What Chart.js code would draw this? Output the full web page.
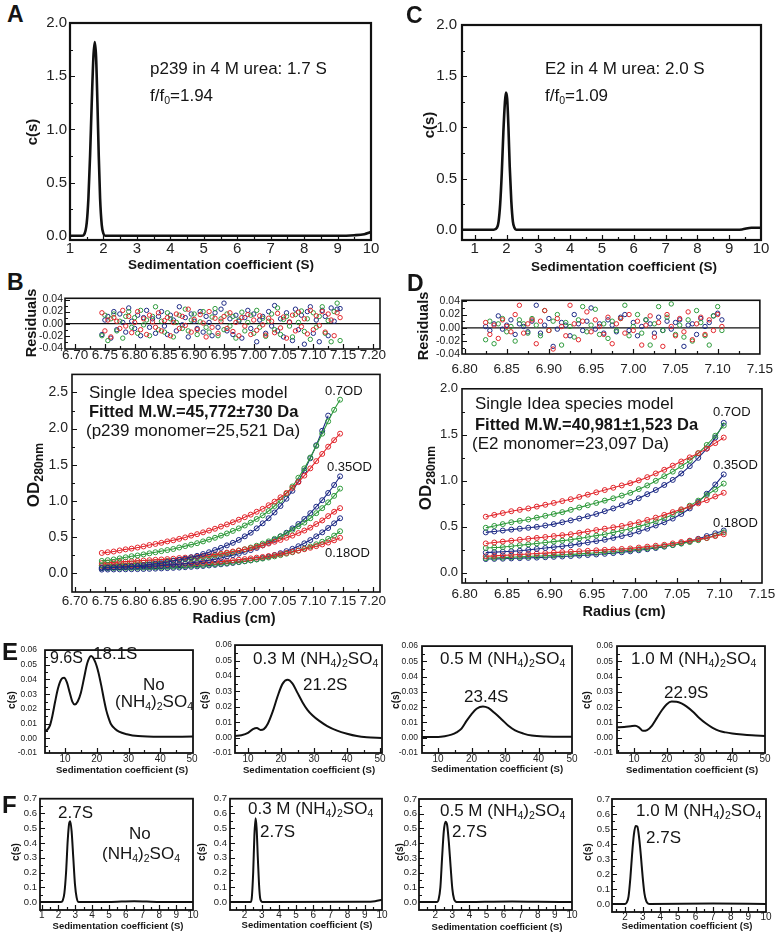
<!DOCTYPE html>
<html><head><meta charset="utf-8">
<script src="https://cdn.jsdelivr.net/npm/chart.js@4.4.1/dist/chart.umd.min.js"></script>
<style>
body{margin:0;width:778px;height:935px;position:relative;background:#fff;overflow:hidden;font-family:'Liberation Sans',Arial,sans-serif;color:#151515}
.t{position:absolute;white-space:nowrap;line-height:1}
.s{font-size:62%;position:relative;top:0.3em}
.s2{font-size:72%;position:relative;top:0.3em}
</style></head><body>
<script>
// ---------------- data ----------------
// A : p239 in 4 M urea
const sA=[1.0,1.35,1.42,1.5,1.55,1.6,1.65,1.7,1.74,1.78,1.82,1.86,1.9,1.95,2.0,2.05,2.2,4,6,8,9,9.5,9.8,10];
const cA=[0,0,0.01,0.12,0.35,0.75,1.25,1.68,1.82,1.68,1.25,0.75,0.35,0.1,0.02,0,0,0,0,0,0,0.005,0.015,0.035];
// C : E2 in 4 M urea
const sC=[0.6,1.6,1.7,1.75,1.8,1.85,1.9,1.95,1.98,2.02,2.06,2.1,2.15,2.2,2.25,2.3,5,9,9.4,9.7,10];
const cC=[0,0,0.02,0.08,0.25,0.55,0.95,1.25,1.34,1.28,1.0,0.62,0.28,0.08,0.02,0,0,0,0.003,0.02,0.02];
// B : p239 sedimentation equilibrium
const radiusB=[6.745,6.755,6.765,6.775,6.785,6.795,6.805,6.815,6.825,6.835,6.845,6.855,6.865,6.875,6.885,6.895,6.905,6.915,6.925,6.935,6.945,6.955,6.965,6.975,6.985,6.995,7.005,7.015,7.025,7.035,7.045,7.055,7.065,7.075,7.085,7.095,7.105,7.115,7.125,7.135,7.145];
const odB_red07=[.28,.29,.30,.315,.33,.34,.355,.37,.39,.405,.42,.44,.455,.475,.495,.52,.54,.565,.59,.615,.645,.675,.705,.74,.775,.81,.85,.89,.94,.99,1.05,1.11,1.18,1.26,1.35,1.45,1.55,1.65,1.75,1.84,1.93];
const odB_green07=[.17,.18,.19,.205,.22,.235,.245,.26,.275,.29,.305,.32,.335,.355,.375,.395,.415,.44,.465,.49,.52,.55,.585,.62,.66,.70,.75,.80,.86,.93,1.01,1.10,1.20,1.32,1.45,1.60,1.76,1.93,2.10,2.26,2.40];
const odB_blue07=[.07,.075,.08,.085,.09,.095,.10,.11,.12,.13,.14,.155,.17,.185,.20,.22,.24,.265,.29,.32,.35,.385,.42,.46,.51,.56,.62,.69,.76,.84,.93,1.03,1.14,1.27,1.42,1.59,1.77,1.97,2.18,null,null];
const odB_red035=[.14,.145,.15,.155,.16,.165,.17,.175,.18,.185,.19,.195,.20,.21,.215,.22,.23,.24,.25,.26,.27,.285,.30,.315,.33,.345,.365,.385,.41,.435,.46,.49,.52,.555,.59,.63,.68,.73,.79,.85,.90];
const odB_green035=[.11,.115,.12,.125,.13,.135,.14,.145,.15,.155,.16,.17,.175,.185,.19,.20,.21,.22,.23,.245,.26,.275,.29,.31,.33,.355,.38,.41,.44,.475,.51,.55,.60,.65,.70,.76,.83,.90,.98,1.07,1.17];
const odB_blue035=[.08,.082,.084,.086,.088,.09,.092,.095,.098,.10,.105,.11,.118,.125,.135,.145,.155,.165,.18,.195,.21,.23,.25,.27,.295,.32,.35,.385,.42,.46,.51,.56,.62,.68,.75,.83,.92,1.01,1.11,1.22,1.34];
const odB_red018=[.10,.10,.102,.104,.106,.108,.11,.112,.114,.116,.118,.121,.124,.127,.131,.135,.14,.145,.15,.156,.162,.17,.178,.186,.195,.205,.215,.225,.237,.25,.264,.28,.296,.313,.332,.352,.374,.398,.424,.455,.49];
const odB_green018=[.07,.071,.072,.073,.074,.075,.076,.078,.08,.082,.085,.088,.091,.095,.099,.104,.109,.114,.12,.126,.133,.14,.148,.157,.167,.178,.19,.203,.217,.233,.25,.27,.29,.313,.34,.37,.40,.435,.475,.52,.58];
const odB_blue018=[.05,.051,.052,.053,.054,.055,.056,.058,.06,.063,.066,.07,.074,.078,.083,.088,.094,.10,.107,.115,.123,.132,.142,.153,.165,.178,.193,.21,.23,.252,.277,.305,.337,.373,.413,.458,.51,.565,.625,.69,.76];
const resXB=[6.745,6.75,6.755,6.76,6.765,6.77,6.775,6.78,6.785,6.79,6.795,6.8,6.805,6.81,6.815,6.82,6.825,6.83,6.835,6.84,6.845,6.85,6.855,6.86,6.865,6.87,6.875,6.88,6.885,6.89,6.895,6.9,6.905,6.91,6.915,6.92,6.925,6.93,6.935,6.94,6.945,6.95,6.955,6.96,6.965,6.97,6.975,6.98,6.985,6.99,6.995,7.0,7.005,7.01,7.015,7.02,7.025,7.03,7.035,7.04,7.045,7.05,7.055,7.06,7.065,7.07,7.075,7.08,7.085,7.09,7.095,7.1,7.105,7.11,7.115,7.12,7.125,7.13,7.135,7.14,7.145];
const resB_red=[.018,-.012,.006,-.022,.01,.004,-.008,.022,-.004,.012,-.015,.002,.02,-.01,.008,-.018,.014,.003,-.006,.018,-.012,.005,.01,-.02,.002,.016,-.008,.012,-.003,.024,-.014,.007,-.01,.015,.001,-.022,.02,-.006,.009,-.016,.004,.012,-.008,.018,-.013,.002,-.02,.01,-.004,.015,-.018,.006,-.011,.013,-.002,-.019,.009,.004,-.015,.017,-.007,.011,-.024,.003,.014,-.012,.019,-.005,.008,-.017,.022,-.01,.013,-.003,.02,-.014,.016,.006,-.02,.018,.01];
const resB_green=[-.02,.014,-.028,.008,.016,-.012,.004,-.024,.012,.02,-.006,.01,-.016,.022,-.002,.006,-.02,.012,.028,-.01,.004,-.014,.018,.008,-.022,.002,.014,-.008,.024,-.012,.006,.016,-.018,.003,.02,-.006,-.014,.011,.025,-.02,.008,-.01,.016,-.004,.012,-.024,.006,.019,-.012,.002,.014,-.016,.022,-.006,.009,-.021,.004,.016,-.01,.026,-.018,.007,.012,-.004,-.022,.015,.002,.021,-.013,.008,-.026,.018,-.006,.012,.028,-.016,.005,-.03,.02,.034,-.028];
const resB_blue=[-.018,.006,.012,-.024,.02,-.01,.016,.002,-.014,.026,.004,-.008,.014,-.02,.01,.022,-.006,.008,-.016,.012,.02,-.004,-.018,.014,.006,-.012,.028,-.002,.01,-.022,.016,.004,-.008,.02,-.014,.012,.002,-.02,.018,-.006,.024,.034,-.012,.008,-.018,.014,.004,-.024,.01,.022,-.008,.016,-.03,.006,.012,-.016,.02,-.004,.03,-.012,.008,-.022,.018,.002,-.028,.024,-.01,.014,-.034,.02,.028,-.016,.006,-.03,.022,.012,-.02,.026,.004,.024,.025];
// D : E2 sedimentation equilibrium
const radiusD=[6.825,6.835,6.845,6.855,6.865,6.875,6.885,6.895,6.905,6.915,6.925,6.935,6.945,6.955,6.965,6.975,6.985,6.995,7.005,7.015,7.025,7.035,7.045,7.055,7.065,7.075,7.085,7.095,7.105];
const odD_red07=[.61,.63,.65,.67,.685,.70,.72,.74,.76,.78,.80,.825,.85,.875,.90,.925,.95,.975,1.005,1.04,1.08,1.12,1.165,1.21,1.255,1.30,1.35,1.41,1.47];
const odD_green07=[.49,.51,.53,.55,.565,.58,.60,.62,.64,.66,.685,.71,.735,.76,.785,.81,.84,.87,.91,.95,1.0,1.05,1.10,1.16,1.22,1.30,1.39,1.49,1.60];
const odD_blue07=[.44,.45,.46,.47,.48,.49,.50,.515,.53,.55,.57,.59,.615,.64,.67,.70,.735,.77,.81,.855,.90,.955,1.01,1.08,1.16,1.25,1.35,1.47,1.63];
const odD_red035=[.32,.33,.34,.35,.36,.37,.38,.39,.40,.41,.42,.435,.45,.465,.48,.495,.51,.53,.55,.575,.60,.63,.66,.69,.72,.755,.79,.83,.87];
const odD_green035=[.27,.275,.28,.29,.30,.31,.32,.33,.34,.35,.36,.375,.39,.405,.42,.44,.46,.48,.505,.53,.56,.595,.635,.68,.73,.785,.845,.905,.97];
const odD_blue035=[.22,.225,.23,.235,.24,.25,.26,.27,.28,.29,.30,.315,.33,.345,.36,.38,.40,.42,.45,.48,.515,.55,.59,.64,.70,.77,.86,.96,1.07];
const odD_red018=[.18,.185,.19,.195,.20,.205,.21,.215,.22,.225,.23,.235,.24,.245,.25,.255,.26,.265,.275,.285,.295,.305,.32,.335,.35,.365,.38,.40,.42];
const odD_green018=[.16,.163,.166,.17,.174,.178,.182,.186,.19,.195,.20,.206,.212,.218,.225,.232,.24,.248,.257,.267,.278,.29,.303,.318,.335,.355,.378,.405,.44];
const odD_blue018=[.15,.152,.154,.157,.16,.163,.166,.17,.174,.178,.183,.188,.194,.20,.207,.215,.224,.234,.245,.257,.27,.285,.302,.322,.345,.37,.40,.43,.46];
const resXD=[6.825,6.83,6.835,6.84,6.845,6.85,6.855,6.86,6.865,6.87,6.875,6.88,6.885,6.89,6.895,6.9,6.905,6.91,6.915,6.92,6.925,6.93,6.935,6.94,6.945,6.95,6.955,6.96,6.965,6.97,6.975,6.98,6.985,6.99,6.995,7.0,7.005,7.01,7.015,7.02,7.025,7.03,7.035,7.04,7.045,7.05,7.055,7.06,7.065,7.07,7.075,7.08,7.085,7.09,7.095,7.1,7.105];
const resD_red=[.008,-.01,.004,-.016,.012,.002,-.006,.02,.034,-.008,.006,.012,-.024,.01,.026,-.004,-.032,.014,.002,-.012,.034,.006,-.018,.01,.024,-.006,.012,.002,-.01,.016,-.024,.006,.014,-.008,.02,-.004,.01,-.026,.004,.018,-.014,.008,-.028,.02,.002,-.012,.014,-.006,.024,-.018,.006,.016,-.01,.012,-.004,.02,.002];
const resD_green=[-.018,.01,-.024,.006,.014,-.006,.002,-.02,.012,.006,-.008,.014,.004,-.012,.026,-.004,.01,.02,-.026,.008,.002,-.014,.012,.032,-.006,.004,.028,-.01,.006,-.016,.01,-.004,.014,.034,-.012,.002,.02,-.008,.012,-.026,.006,.032,-.004,.016,.036,-.01,.004,-.014,.012,-.02,.026,.008,-.012,-.026,.018,.032,-.004];
const resD_blue=[.002,-.004,.006,.018,-.002,.004,.012,-.01,.006,.002,-.006,.01,.034,-.008,.004,.014,-.028,-.002,.008,.004,-.012,.02,.006,-.004,.01,.03,-.002,.006,-.008,.012,.004,-.006,.016,.02,-.004,.008,-.012,.002,.012,.006,-.008,.016,-.004,.01,-.002,.008,.012,-.028,.004,.006,-.01,.014,.002,.008,.018,.022,.012];
// E : large-s c(s) distributions
const sE1=[3.7,4.5,5.3,6.0,6.9,7.8,8.8,9.7,10.6,11.5,12.3,13.1,14,15,16,17,18.2,19.5,20.5,21.5,22.3,23,23.6,24.5,25.7,27,29.5,33,40,50.3];
const cE1=[.005,.006,.009,.015,.025,.034,.040,.0412,.038,.031,.025,.023,.025,.031,.041,.051,.056,.052,.045,.035,.026,.019,.0146,.0095,.0065,.0045,.0028,.0015,.001,.0012];
const sE2=[6.06,8,10,11.5,12.7,13.8,14.8,16,17.5,19,20.5,22,23.5,25,26.5,28,29.5,31.5,34,37,40,43,46,50.5];
const cE2=[.001,.0015,.003,.0055,.0062,.005,.0055,.009,.017,.027,.035,.0375,.035,.029,.023,.018,.0145,.011,.0075,.0045,.0025,.001,.0002,-.0003];
const sE3=[5.2,10,12,14,15.5,17,18.5,20,21.5,23.4,25,27,29,31,33,35.5,38,42,50];
const cE3=[.0005,.0005,.001,.002,.0035,.006,.011,.0155,.019,.0205,.0195,.016,.012,.0078,.0048,.0027,.0014,.0008,.0006];
const sE4=[4.8,7,9,10.3,11.5,12.7,14,15.5,17,18.5,20,21.5,23,24.5,26,28,30,32,34,36,38,40,43,46,50];
const cE4=[.0068,.007,.0075,.0078,.0068,.0045,.005,.008,.013,.018,.022,.0237,.0236,.0225,.0205,.017,.0128,.0093,.0065,.0045,.0035,.0028,.0021,.0016,.0012];
// F : small-s c(s) distributions
const sF1=[0.9,2.15,2.25,2.35,2.45,2.55,2.63,2.7,2.78,2.88,2.98,3.08,3.2,5,6.5,8,10];
const cF1=[0,0,.01,.06,.2,.42,.53,.548,.48,.3,.12,.03,0,0,.006,0,0];
const sF2=[1.15,2.35,2.42,2.5,2.57,2.64,2.7,2.77,2.84,2.9,2.97,3.05,9,9.6,10];
const cF2=[0,0,.03,.2,.45,.567,.5,.3,.12,.03,.005,0,.002,.006,.015];
const sF3=[1.05,2.1,2.2,2.3,2.4,2.5,2.6,2.7,2.8,2.9,3.0,3.1,3.2,3.3,6.5,8,10];
const cF3=[0,0,.02,.1,.3,.48,.545,.52,.4,.24,.09,.02,.003,0,.004,.002,0];
const sF4=[1.26,2.0,2.1,2.2,2.3,2.4,2.5,2.6,2.7,2.8,2.9,3.0,3.1,3.2,3.3,3.4,7,10];
const cF4=[0,0,.01,.05,.17,.33,.46,.52,.515,.44,.32,.18,.07,.02,.003,0,.003,0];
// tick labels
const ticksS10=[1,2,3,4,5,6,7,8,9,10];
const ticksS10b=[2,3,4,5,6,7,8,9,10];
const ticksCs2=[0,0.5,1.0,1.5,2.0];
const ticksRadB=[6.70,6.75,6.80,6.85,6.90,6.95,7.00,7.05,7.10,7.15,7.20];
const ticksRadD=[6.80,6.85,6.90,6.95,7.00,7.05,7.10,7.15];
const ticksRes=[-0.04,-0.02,0,0.02,0.04];
const ticksODB=[0,0.5,1.0,1.5,2.0,2.5];
const ticksODD=[0,0.5,1.0,1.5,2.0];
const ticksSE=[10,20,30,40,50];
const ticksCE=[-0.01,0,0.01,0.02,0.03,0.04,0.05,0.06];
const ticksCF=[0,0.1,0.2,0.3,0.4,0.5,0.6,0.7];

// ---------------- drawing ----------------
const F="'Liberation Sans', Arial, sans-serif";
const RED='#e2262c', GREEN='#2e9a3b', BLUE='#1d2a85';

const framePlugin={id:'frame',
  beforeDatasetsDraw(ch,a,o){ if(!o.zero) return; const {ctx,chartArea:c}=ch; const p=ch.scales.y.getPixelForValue(0);
    ctx.save(); ctx.strokeStyle='#111'; ctx.lineWidth=1.3; ctx.beginPath(); ctx.moveTo(c.left,p); ctx.lineTo(c.right,p); ctx.stroke(); ctx.restore(); },
  afterDraw(ch,a,o){ const {ctx,chartArea:c}=ch, X=ch.scales.x, Y=ch.scales.y;
    ctx.save(); ctx.strokeStyle='#111'; ctx.lineWidth=1.2; ctx.beginPath();
    const tx=(v,len)=>{const p=Math.round(X.getPixelForValue(v))+0.5; if(p<c.left+1||p>c.right-1) return; ctx.moveTo(p,c.bottom); ctx.lineTo(p,c.bottom-len);};
    const ty=(v,len)=>{const p=Math.round(Y.getPixelForValue(v))+0.5; if(p<c.top+1||p>c.bottom-1) return; ctx.moveTo(c.left,p); ctx.lineTo(c.left+len,p);};
    X.ticks.forEach(t=>tx(t.value,5)); Y.ticks.forEach(t=>ty(t.value,5));
    if(o.xm) for(let k=Math.ceil(X.min/o.xm-1e-9);k*o.xm<=X.max+1e-9;k++) tx(k*o.xm,3);
    if(o.ym) for(let k=Math.ceil(Y.min/o.ym-1e-9);k*o.ym<=Y.max+1e-9;k++) ty(k*o.ym,3);
    ctx.stroke();
    ctx.lineWidth=o.lw; ctx.strokeRect(c.left,c.top,c.right-c.left,c.bottom-c.top);
    ctx.restore(); }};

function pts(xs,ys){return xs.map((x,i)=>({x:x,y:ys[i]}));}
function curve(xs,ys,w){return {data:pts(xs,ys),borderColor:'#111',borderWidth:w||2,pointRadius:0,cubicInterpolationMode:'monotone',fill:false};}
function dots(xs,ys,c,line,r){return {data:pts(xs,ys),borderColor:c,borderWidth:line?1.1:0,showLine:!!line,pointRadius:r||2.5,pointBorderWidth:1,pointBorderColor:c,pointBackgroundColor:'rgba(255,255,255,0)',fill:false,cubicInterpolationMode:'monotone'};}

function panel(box,m,o){
  const [l,t,r,b]=box,[L,T,R,B]=m;
  const W=r-l+L+R,H=b-t+T+B;
  const cv=document.createElement('canvas');
  cv.width=W; cv.height=H;
  cv.style.cssText='position:absolute;left:'+(l-L)+'px;top:'+(t-T)+'px;width:'+W+'px;height:'+H+'px';
  document.body.appendChild(cv);
  const axis=(mn,mx,tv,dec,fs,pad,fit)=>({type:'linear',min:mn,max:mx,afterFit:fit,
    afterBuildTicks:s=>{s.ticks=tv.map(v=>({value:v}));},
    grid:{display:false,drawTicks:false},border:{display:false},
    ticks:{font:{size:fs,family:F},color:'#222',padding:pad,maxRotation:0,minRotation:0,autoSkip:false,callback:v=>Number(v).toFixed(dec)}});
  return new Chart(cv,{type:'line',data:{datasets:o.ds},options:{
    responsive:false,animation:false,devicePixelRatio:1,events:[],
    layout:{padding:{left:0,top:T,right:R,bottom:0}},
    plugins:{legend:{display:false},tooltip:{enabled:false},frame:{lw:o.lw||1.6,xm:o.xm,ym:o.ym,zero:o.zero}},
    scales:{x:axis(o.x[0],o.x[1],o.xt,o.xd,o.xf,o.xp,s=>{s.height=B;}),
            y:axis(o.y[0],o.y[1],o.yt,o.yd,o.yf,o.yp,s=>{s.width=L;})}
  },plugins:[framePlugin]});
}

// A
panel([70,21,371,240],[45,10,14,22],{x:[1,10],y:[-0.04,2.0],xt:ticksS10,yt:ticksCs2,xd:0,yd:1,xf:15,yf:15,xp:0,yp:3,xm:0.5,ym:0.25,lw:2.2,
  ds:[curve(sA,cA,2.6)]});
// C
panel([462,21,761,240],[45,10,15,22],{x:[0.6,10],y:[-0.1,2.0],xt:ticksS10,yt:ticksCs2,xd:0,yd:1,xf:15,yf:15,xp:0,yp:5,xm:0.5,ym:0.25,lw:2.2,
  ds:[curve(sC,cC,2.6)]});
// B residuals
panel([65,298,380,349],[40,8,20,18],{x:[6.683,7.212],y:[-0.042,0.042],xt:ticksRadB,yt:ticksRes,xd:2,yd:2,xf:13.5,yf:10.5,xp:-2,yp:2,xm:0.025,ym:0.01,lw:1.6,zero:true,
  ds:[dots(resXB,resB_red,RED,false,2.2),dots(resXB,resB_green,GREEN,false,2.2),dots(resXB,resB_blue,BLUE,false,2.2)]});
// B main
panel([72,372,380,592],[40,10,20,20],{x:[6.695,7.212],y:[-0.26,2.75],xt:ticksRadB,yt:ticksODB,xd:2,yd:1,xf:13.5,yf:14,xp:1,yp:4,xm:0.025,ym:0.25,lw:1.6,
  ds:[dots(radiusB,odB_red07,RED,true),dots(radiusB,odB_green07,GREEN,true),dots(radiusB,odB_blue07,BLUE,true),
      dots(radiusB,odB_red035,RED,true),dots(radiusB,odB_green035,GREEN,true),dots(radiusB,odB_blue035,BLUE,true),
      dots(radiusB,odB_red018,RED,true),dots(radiusB,odB_green018,GREEN,true),dots(radiusB,odB_blue018,BLUE,true)]});
// D residuals
panel([462,300,762,354],[40,8,18,26],{x:[6.797,7.15],y:[-0.0395,0.0415],xt:ticksRadD,yt:ticksRes,xd:2,yd:2,xf:13.5,yf:10.5,xp:7,yp:2,xm:0.025,ym:0.01,lw:1.6,zero:true,
  ds:[dots(resXD,resD_red,RED,false,2.2),dots(resXD,resD_green,GREEN,false,2.2),dots(resXD,resD_blue,BLUE,false,2.2)]});
// D main
panel([462,387,762,583],[40,10,18,22],{x:[6.797,7.15],y:[-0.11,2.0],xt:ticksRadD,yt:ticksODD,xd:2,yd:1,xf:13.5,yf:13,xp:3,yp:4,xm:0.025,ym:0.25,lw:1.6,
  ds:[dots(radiusD,odD_red07,RED,true),dots(radiusD,odD_green07,GREEN,true),dots(radiusD,odD_blue07,BLUE,true),
      dots(radiusD,odD_red035,RED,true),dots(radiusD,odD_green035,GREEN,true),dots(radiusD,odD_blue035,BLUE,true),
      dots(radiusD,odD_red018,RED,true),dots(radiusD,odD_green018,GREEN,true),dots(radiusD,odD_blue018,BLUE,true)]});
// E
const eOpt=(xr,yp,s,c)=>({x:xr,y:[-0.01,0.06],xt:ticksSE,yt:ticksCE,xd:0,yd:2,xf:10,yf:8.5,xp:0,yp:yp,xm:5,ym:0.005,lw:1.8,ds:[curve(s,c,2)]});
panel([45,645,193,753],[40,8,12,14],eOpt([3.7,50.3],8,sE1,cE1));
panel([235,645,382,753],[40,8,12,14],eOpt([6.06,50.6],3,sE2,cE2));
panel([422,645,572,753],[40,8,12,14],eOpt([5.2,50],4,sE3,cE3));
panel([617,645,765,753],[40,8,10,14],eOpt([4.8,50],4,sE4,cE4));
// F
const fOpt=(xr,xt,yp,s,c)=>({x:xr,y:[-0.054,0.7],xt:xt,yt:ticksCF,xd:0,yd:1,xf:10,yf:9.5,xp:-1,yp:yp,xm:0.5,ym:0.05,lw:1.8,ds:[curve(s,c,2)]});
panel([40,798,193,910],[36,8,12,12],fOpt([0.9,10],ticksS10,3,sF1,cF1));
panel([230,798,382,910],[36,8,12,12],fOpt([1.15,10],ticksS10b,3,sF2,cF2));
panel([419,799,572,910],[36,8,12,12],fOpt([1.05,10],ticksS10b,2,sF3,cF3));
panel([612,799,766,912],[36,8,10,12],fOpt([1.26,10],ticksS10b,2,sF4,cF4));

// ---------------- text ----------------
function T(x,yc,h,fs,bold,center){const d=document.createElement('div');d.className='t';d.innerHTML=h;
  d.style.left=x+'px';d.style.top=(yc-0.49*fs)+'px';d.style.fontSize=fs+'px';if(bold)d.style.fontWeight='bold';
  if(center)d.style.transform='translateX(-50%)';document.body.appendChild(d);}
function V(xc,yc,h,fs){const d=document.createElement('div');d.className='t';d.innerHTML=h;
  d.style.left=xc+'px';d.style.top=yc+'px';d.style.fontSize=fs+'px';d.style.fontWeight='bold';
  d.style.transform='translate(-50%,-50%) rotate(-90deg)';document.body.appendChild(d);}
const NH='(NH<span class="s">4</span>)<span class="s">2</span>SO<span class="s">4</span>';
const SED='Sedimentation coefficient (S)';
// panel letters
T(7,14,'A',23,true); T(406,15,'C',23,true); T(7,282,'B',23,true); T(407,283,'D',23,true);
T(2,652,'E',24,true); T(2,805,'F',24,true);
// A, C
T(150,68,'p239 in 4 M urea: 1.7 S',17); T(150,95,'f/f<span class="s">0</span>=1.94',17);
T(545,68,'E2 in 4 M urea: 2.0 S',17); T(545,95,'f/f<span class="s">0</span>=1.09',17);
T(221,265,SED,13.5,true,true); T(624,267,SED,13.5,true,true);
V(31,132,'c(s)',15); V(428,125,'c(s)',15);
// B, D
V(31,323,'Residuals',14.5); V(423,326,'Residuals',14.5);
V(33,475,'OD<span class="s2">280nm</span>',17); V(425,478,'OD<span class="s2">280nm</span>',17);
T(234,618,'Radius (cm)',14.5,true,true); T(624,611,'Radius (cm)',14.5,true,true);
T(89,392,'Single Idea species model',17); T(89,411,'Fitted M.W.=45,772±730 Da',16.5,true); T(86,430,'(p239 monomer=25,521 Da)',17);
T(325,390,'0.7OD',13); T(327,466,'0.35OD',13); T(325,552,'0.18OD',13);
T(475,403,'Single Idea species model',17); T(475,424,'Fitted M.W.=40,981±1,523 Da',16.5,true); T(472,443,'(E2 monomer=23,097 Da)',17);
T(713,411,'0.7OD',13); T(713,464,'0.35OD',13); T(713,522,'0.18OD',13);
// E
T(122,770,SED,9.6,true,true); T(309,770,SED,9.6,true,true); T(497,769,SED,9.6,true,true); T(692,770,SED,9.6,true,true);
V(12,700,'c(s)',10); V(205,700,'c(s)',10); V(396,700,'c(s)',10); V(587,700,'c(s)',10);
T(50,658,'9.6S',16); T(93,653,'18.1S',17); T(143,684,'No',17); T(115,701,NH,17);
T(253,658,'0.3 M '+NH,17); T(303,684,'21.2S',17);
T(440,658,'0.5 M '+NH,17); T(464,696,'23.4S',17);
T(631,658,'1.0 M '+NH,17); T(664,692,'22.9S',17);
// F
T(118,926,SED,9.5,true,true); T(307,925,SED,9.5,true,true); T(497,927,SED,9.5,true,true); T(687,926,SED,9.5,true,true);
V(16,852,'c(s)',10); V(202,852,'c(s)',10); V(400,852,'c(s)',10); V(588,852,'c(s)',10);
T(58,812,'2.7S',17); T(129,833,'No',17); T(102,853,NH,17);
T(248,808,'0.3 M '+NH,17); T(260,831,'2.7S',17);
T(440,810,'0.5 M '+NH,17); T(452,831,'2.7S',17);
T(636,810,'1.0 M '+NH,17); T(646,837,'2.7S',17);
</script>
</body></html>
